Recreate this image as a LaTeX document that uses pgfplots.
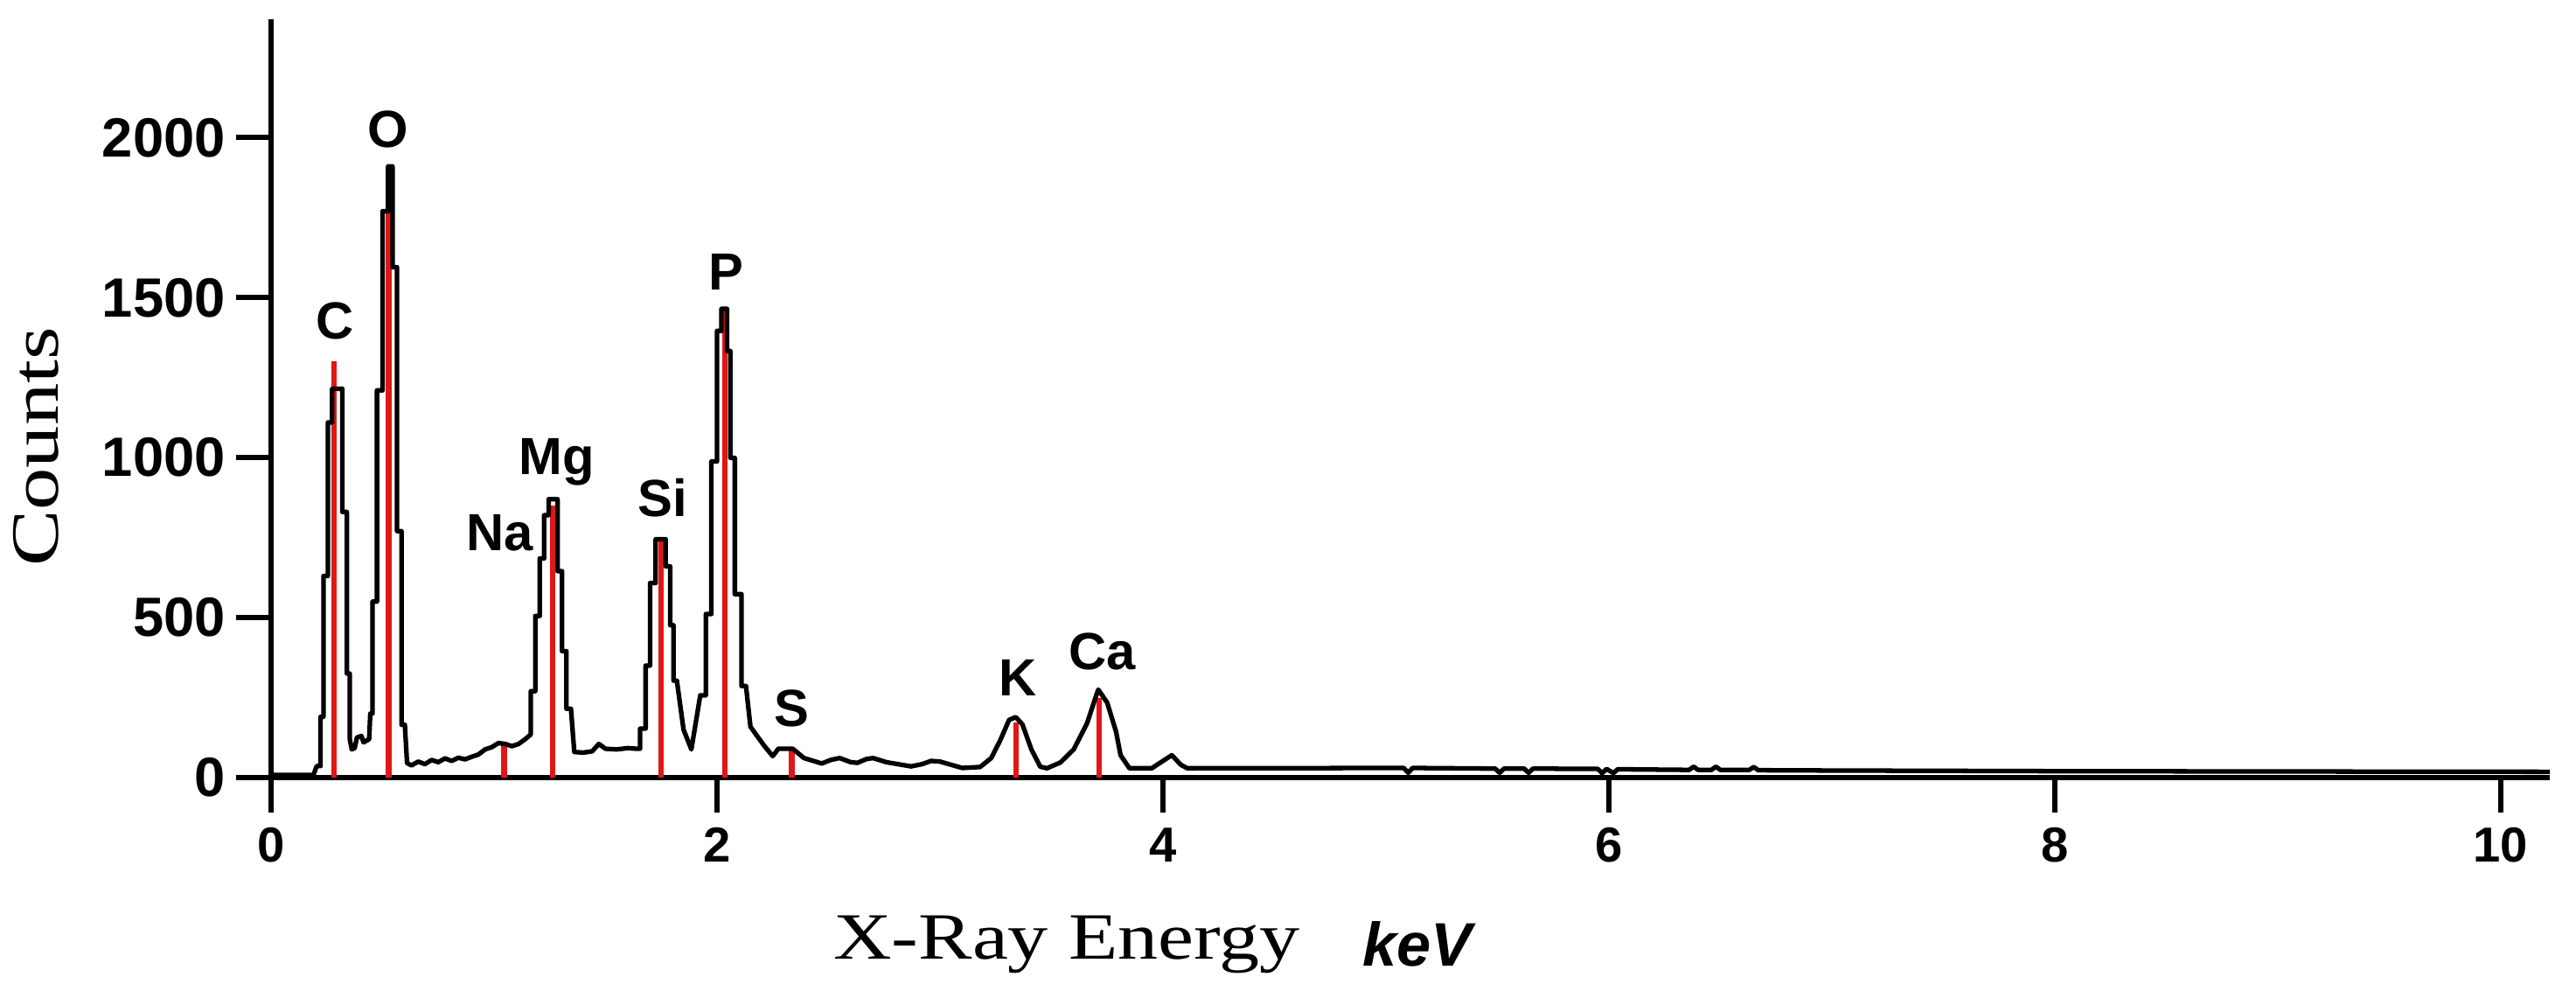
\documentclass[border=0pt]{standalone}
\usepackage{pgfplots}
\pgfplotsset{compat=1.18}
\usepackage{fontspec}
\usepackage{graphicx}
\newfontfamily\lsans{Liberation Sans}
\newfontfamily\lserif{Liberation Serif}
\definecolor{linered}{RGB}{225,22,22}

\begin{document}
\begin{tikzpicture}
\useasboundingbox (-3.10,-2.52) rectangle (26.36,8.89);
\begin{axis}[
    at={(0,0)}, anchor=south west,
    scale only axis,
    width=26.06cm, height=8.67cm,
    xmin=0, xmax=10.22,
    ymin=0, ymax=2370,
    axis lines*=left,
    axis line style={-, line width=1.9pt},
    xtick={0,2,4,6,8,10},
    ytick={0,500,1000,1500,2000},
    minor tick num=0,
    tick align=outside,
    major tick length=0.4cm,
    tick style={line width=1.7pt, black},
    /pgf/number format/assume math mode=true,
    /pgf/number format/set thousands separator={},
    xticklabel style={font=\lsans\bfseries\fontsize{16}{16}\selectfont, yshift=-0.05cm},
    yticklabel style={font=\lsans\bfseries\fontsize{18}{18}\selectfont, anchor=east},
    ylabel={\scalebox{1.25}[1]{\lserif\fontsize{22}{24}\selectfont Counts}},
    ylabel style={at={(axis description cs:-0.1032,0.436)}, anchor=center},
    xlabel={\scalebox{1.22}[1]{\lserif\fontsize{21.5}{24}\selectfont X-Ray Energy}\hspace{0.72cm}\raisebox{-0.08cm}{\lsans\bfseries\itshape\fontsize{20}{24}\selectfont keV}},
    xlabel style={at={(axis description cs:0.3870,-0.2388)}, anchor=base},
    clip=false,
]
% element marker lines
\addplot[ycomb, color=linered, line width=1.8pt, no marks] coordinates {
    (0.282,1300) (0.528,1780) (1.045,110) (1.262,850) (1.750,745)
    (2.035,1460) (2.335,90) (3.340,172) (3.715,250)
};
% EDS spectrum
\addplot[black, line width=1.5pt, line join=round, no marks] coordinates {
    (0.00,8) (0.19,8) (0.205,36) (0.222,36) (0.222,190) (0.235,190) (0.235,630)
    (0.255,630) (0.255,1110) (0.274,1110) (0.274,1215) (0.32,1215) (0.32,830)
    (0.34,830) (0.34,325) (0.353,325) (0.353,120) (0.362,88) (0.375,92)
    (0.385,125) (0.405,130) (0.415,110) (0.44,120) (0.445,200) (0.455,200)
    (0.455,550) (0.475,550) (0.475,1210) (0.5,1210) (0.5,1770) (0.525,1770)
    (0.525,1910) (0.545,1910) (0.545,1595) (0.565,1595) (0.565,770) (0.585,770)
    (0.585,165) (0.60,165) (0.61,45) (0.63,38) (0.66,50) (0.69,42) (0.72,55)
    (0.75,48) (0.78,60) (0.81,52) (0.84,62) (0.87,57) (0.90,65) (0.93,72)
    (0.96,88) (0.99,95) (1.02,108) (1.05,105) (1.08,98) (1.11,105) (1.14,120)
    (1.165,135) (1.165,270) (1.185,270) (1.185,505) (1.205,505) (1.205,685)
    (1.225,685) (1.225,820) (1.245,820) (1.245,870) (1.285,870) (1.285,645)
    (1.305,645) (1.305,395) (1.325,395) (1.325,215) (1.345,215) (1.36,80)
    (1.40,78) (1.44,82) (1.47,105) (1.50,90) (1.55,88) (1.60,92) (1.64,90)
    (1.655,90) (1.655,153) (1.68,153) (1.68,350) (1.70,350) (1.70,608)
    (1.725,608) (1.725,745) (1.77,745) (1.77,660) (1.79,660) (1.79,476)
    (1.805,476) (1.805,303) (1.82,303) (1.85,150) (1.885,88) (1.925,257)
    (1.95,257) (1.95,511) (1.975,511) (1.975,988) (2.0,988) (2.0,1396)
    (2.02,1396) (2.02,1465) (2.045,1465) (2.045,1333) (2.06,1333) (2.06,999)
    (2.08,999) (2.08,573) (2.11,573) (2.11,286) (2.13,286) (2.15,159)
    (2.21,101) (2.25,67) (2.275,90) (2.34,90) (2.39,61) (2.47,44) (2.51,55)
    (2.55,61) (2.60,48) (2.63,46) (2.67,58) (2.70,61) (2.76,48) (2.87,35)
    (2.92,42) (2.96,52) (3.0,50) (3.05,40) (3.10,30) (3.18,33) (3.23,61)
    (3.27,116) (3.31,180) (3.34,189) (3.37,166) (3.41,88) (3.45,34) (3.48,29)
    (3.54,47) (3.60,88) (3.66,170) (3.69,234) (3.71,275) (3.75,234) (3.79,143)
    (3.81,70) (3.85,29) (3.95,29) (4.0,52) (4.04,70) (4.08,40) (4.11,29)
    (5.08,30) (5.10,15) (5.12,30) (5.49,28) (5.51,15) (5.53,28) (5.62,28)
    (5.64,15) (5.66,28) (5.95,27) (5.97,14) (5.99,27) (6.02,14) (6.04,26)
    (6.36,24) (6.38,34) (6.40,24) (6.46,24) (6.48,34) (6.50,24) (6.63,24)
    (6.65,33) (6.67,23) (7.0,22) (8.0,20) (9.0,19) (10.22,18)
};
% element labels
\begin{scope}[every node/.style={font=\lsans\bfseries\fontsize{17}{17}\selectfont, inner sep=0pt}]
\node at (axis cs:0.288,1428) {C};
\node at (axis cs:0.523,2027) {O};
\node at (axis cs:1.027,766) {Na};
\node at (axis cs:1.282,985) {Mg};
\node at (axis cs:1.755,873) {Si};
\node at (axis cs:2.040,1580) {P};
\node at (axis cs:2.334,216) {S};
\node at (axis cs:3.348,312) {K};
\node at (axis cs:3.727,394) {Ca};
\end{scope}
\end{axis}
\end{tikzpicture}
\end{document}
